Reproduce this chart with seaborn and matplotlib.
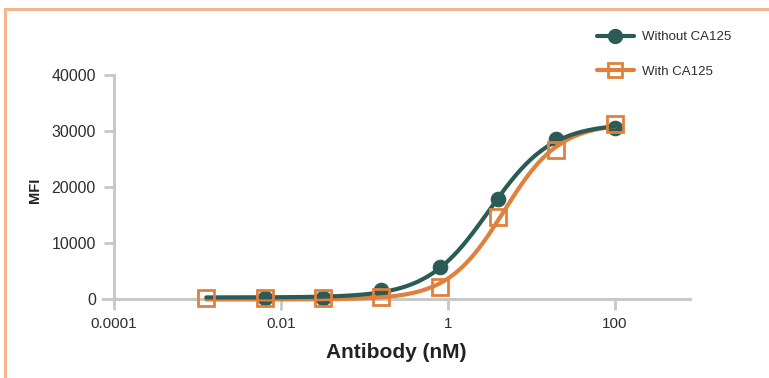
import numpy as np
import pandas as pd
import matplotlib
matplotlib.use("Agg")
import matplotlib.pyplot as plt
import seaborn as sns
from matplotlib.lines import Line2D
from matplotlib.patches import Rectangle

# ---- data ----
conc_without = [0.0064, 0.032, 0.16, 0.8, 4, 20, 100]
mfi_without = [150, 200, 1520, 5690, 17800, 28660, 30500]

conc_with = [0.00128, 0.0064, 0.032, 0.16, 0.8, 4, 20, 100]
mfi_with = [100, 100, 100, 270, 2060, 14580, 26570, 31220]

series_labels = ["Without CA125", "With CA125"]
x_ticks = [1e-4, 1e-2, 1, 100]
x_tick_labels = ["0.0001", "0.01", "1", "100"]
y_ticks = [0, 10000, 20000, 30000, 40000]
y_tick_labels = ["0", "10000", "20000", "30000", "40000"]

TEAL = "#2A5C55"
ORANGE = "#E0803C"
BORDER = "#F3B58E"
AXIS = "#C8C8C8"
TEXT = "#2E2E2E"


def fit4pl(x, y):
    """Least-squares four-parameter logistic fit (grid over EC50/hill, linear in bottom/top)."""
    x = np.asarray(x, float)
    y = np.asarray(y, float)
    lx = np.log10(x)
    lc = np.arange(-2.0, 2.5, 0.005)
    hh = np.arange(0.3, 3.0, 0.01)
    LC, H = np.meshgrid(lc, hh, indexing="ij")
    LC = LC.ravel()
    H = H.ravel()
    s = 1.0 / (1.0 + 10 ** ((LC[:, None] - lx[None, :]) * H[:, None]))
    sm = s.mean(1)
    ym = y.mean()
    sxx = ((s - sm[:, None]) ** 2).sum(1)
    sxy = ((s - sm[:, None]) * (y - ym)).sum(1)
    d = sxy / sxx
    b = ym - d * sm
    res = ((b[:, None] + d[:, None] * s - y) ** 2).sum(1)
    i = np.argmin(res)
    return b[i], d[i], LC[i], H[i]


def curve(params, xs):
    b, d, lc, h = params
    return b + d / (1.0 + 10 ** ((lc - np.log10(xs)) * h))


sns.set_theme(style="white")
plt.rcParams["font.family"] = ["Liberation Sans", "DejaVu Sans"]

fig = plt.figure(figsize=(7.69, 3.78), dpi=100)
fig.patch.set_facecolor("white")

# salmon frame (left and top visible)
fig.patches.append(Rectangle((5 / 769, -0.2), 1.2, 1 - 8.5 / 378 + 0.2,
                             transform=fig.transFigure, fill=False,
                             edgecolor=BORDER, linewidth=2.2, zorder=0))

ax = fig.add_axes([103 / 769, 1 - 299 / 378, 587 / 769, (299 - 75) / 378])
ax.set_facecolor("none")

df_wo = pd.DataFrame({"conc": conc_without, "mfi": mfi_without})
df_w = pd.DataFrame({"conc": conc_with, "mfi": mfi_with})

p_wo = fit4pl(conc_without, mfi_without)
p_w = fit4pl(conc_with, mfi_with)
xs = np.logspace(np.log10(min(conc_with)), np.log10(max(conc_with)), 400)
fit_wo = pd.DataFrame({"conc": xs, "mfi": curve(p_wo, xs)})
fit_w = pd.DataFrame({"conc": xs, "mfi": curve(p_w, xs)})

sns.lineplot(data=df_wo, x="conc", y="mfi", ax=ax, linestyle="", marker="o",
             markersize=10.5, color=TEAL, markeredgecolor=TEAL, zorder=3, clip_on=False)
sns.lineplot(data=fit_w, x="conc", y="mfi", ax=ax, color=ORANGE, linewidth=3.0,
             zorder=4, clip_on=False)
sns.lineplot(data=fit_wo, x="conc", y="mfi", ax=ax, color=TEAL, linewidth=3.0,
             zorder=5, clip_on=False)
sns.lineplot(data=df_w, x="conc", y="mfi", ax=ax, linestyle="", marker="s",
             markersize=11, markerfacecolor="none", markeredgecolor=ORANGE,
             markeredgewidth=2.0, zorder=6, clip_on=False)

ax.set_xscale("log")
ax.set_xlim(10 ** -4.13, 10 ** 2.9)
ax.set_ylim(0, 40000)
ax.set_xticks(x_ticks)
ax.set_xticklabels(x_tick_labels)
ax.xaxis.set_minor_locator(matplotlib.ticker.NullLocator())
ax.set_yticks(y_ticks)
ax.set_yticklabels(y_tick_labels)

for side in ["top", "right"]:
    ax.spines[side].set_visible(False)
for side in ["left", "bottom"]:
    ax.spines[side].set_color(AXIS)
    ax.spines[side].set_linewidth(2.2)
ax.spines["left"].set_position(("data", 1e-4))

ax.tick_params(axis="x", which="major", direction="out", length=8, width=2,
               color=AXIS, labelsize=11, labelcolor=TEXT, pad=5, bottom=True)
ax.tick_params(axis="y", which="major", direction="out", length=7, width=2,
               color=AXIS, labelsize=11.5, labelcolor=TEXT, pad=6, left=True)
ax.grid(False)

ax.set_xlabel("Antibody (nM)", fontsize=15, fontweight="bold", color="#222222", va="center")
ax.xaxis.set_label_coords(0.5, -(352 - 299) / 224)
ax.set_ylabel("MFI", fontsize=10.5, fontweight="bold", color="#222222", va="center")
ax.yaxis.set_label_coords((35 - 103) / 587, (299 - 190) / 224)

handles = [
    Line2D([], [], color=TEAL, linewidth=3, marker="o", markersize=10,
           markeredgecolor=TEAL),
    Line2D([], [], color=ORANGE, linewidth=3, marker="s", markersize=10,
           markerfacecolor="none", markeredgecolor=ORANGE, markeredgewidth=2),
]
leg = fig.legend(handles, series_labels, loc="upper left",
                 bbox_to_anchor=(597 / 769, 1 - 31 / 378), frameon=False,
                 fontsize=9.5, handlelength=2.8, handletextpad=0.6,
                 labelspacing=1.7, borderpad=0, borderaxespad=0)
for t in leg.get_texts():
    t.set_color(TEXT)

fig.savefig("out.png", dpi=100)
